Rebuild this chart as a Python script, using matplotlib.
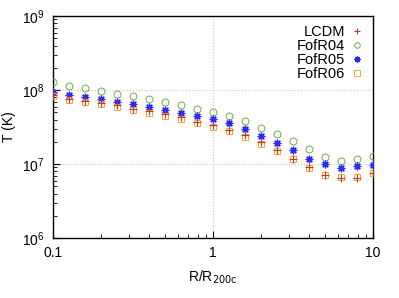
import matplotlib
matplotlib.use('Agg')
import matplotlib.pyplot as plt
from matplotlib.ticker import LogLocator, NullFormatter, FixedLocator, FixedFormatter

plt.rcParams['font.family'] = ['Liberation Sans', 'DejaVu Sans']

# radius bins (R/R200c)
r = [0.1, 0.126, 0.158, 0.2, 0.251, 0.316, 0.398, 0.501, 0.631, 0.794, 1.0,
     1.26, 1.58, 2.0, 2.51, 3.16, 3.98, 5.01, 6.31, 7.94, 10.0]

# temperature profiles (K)
t_lcdm = [8.55e7, 7.64e7, 7.18e7, 6.67e7, 6.21e7, 5.60e7, 5.15e7, 4.74e7, 4.28e7, 3.73e7, 3.33e7,
          2.91e7, 2.44e7, 1.98e7, 1.55e7, 1.18e7, 9.0e6, 7.03e6, 6.47e6, 6.47e6, 7.64e6]
t_r04 = [1.27e8, 1.15e8, 1.06e8, 9.8e7, 8.9e7, 8.2e7, 7.5e7, 6.8e7, 6.2e7, 5.6e7, 5.0e7,
         4.4e7, 3.8e7, 3.1e7, 2.55e7, 2.07e7, 1.6e7, 1.26e7, 1.11e7, 1.17e7, 1.27e7]
t_r05 = [9.4e7, 8.55e7, 7.96e7, 7.48e7, 6.96e7, 6.4e7, 5.89e7, 5.42e7, 4.94e7, 4.46e7, 4.02e7,
         3.55e7, 2.97e7, 2.39e7, 1.92e7, 1.53e7, 1.19e7, 1.01e7, 8.9e6, 9.4e6, 9.7e6]
t_r06 = [8.21e7, 7.24e7, 6.88e7, 6.40e7, 5.96e7, 5.42e7, 4.94e7, 4.50e7, 4.10e7, 3.62e7, 3.20e7,
         2.79e7, 2.34e7, 1.88e7, 1.51e7, 1.17e7, 8.9e6, 7.1e6, 6.67e6, 6.74e6, 7.55e6]

fig = plt.figure(figsize=(3.99, 2.98), dpi=100)
ax = fig.add_axes([0.133, 0.201, 0.802, 0.745])

ax.plot(r, t_lcdm, linestyle='none', marker='+', markersize=5.5, markeredgewidth=0.8,
        color='#c8352a', label='LCDM', zorder=4)
ax.plot(r, t_r04, linestyle='none', marker='o', markersize=5, markeredgewidth=0.7,
        markerfacecolor='none', color='#6aaa4a', label='FofR04', zorder=3)
ax.plot(r, t_r05, linestyle='none', marker=(8, 2, 0), markersize=5.5, markeredgewidth=0.9,
        color='#2a2aff', label='FofR05', zorder=3)
ax.plot(r, t_r06, linestyle='none', marker='s', markersize=5, markeredgewidth=0.7,
        markerfacecolor='none', color='#f3a532', label='FofR06', zorder=3)

ax.set_xscale('log')
ax.set_yscale('log')
ax.set_xlim(0.1, 10)
ax.set_ylim(1e6, 1e9)

ax.xaxis.set_major_locator(FixedLocator([0.1, 1, 10]))
ax.xaxis.set_major_formatter(FixedFormatter(['0.1', '1', '10']))
ax.xaxis.set_minor_locator(LogLocator(base=10, subs=range(2, 10)))
ax.xaxis.set_minor_formatter(NullFormatter())
ax.yaxis.set_major_locator(LogLocator(base=10, numticks=10))
ax.yaxis.set_minor_locator(LogLocator(base=10, subs=range(2, 10), numticks=10))
ax.yaxis.set_minor_formatter(NullFormatter())

ax.tick_params(which='major', direction='in', length=5, width=0.8, labelsize=10, pad=6)
ax.tick_params(which='minor', direction='in', length=3, width=0.6)
ax.grid(True, which='major', color='#c8c8c8', linestyle=':', linewidth=0.8)
for s in ax.spines.values():
    s.set_linewidth(1.0)

ax.set_xlabel('R/R$_{\\mathrm{200c}}$', fontsize=10, labelpad=6)
ax.set_ylabel('T (K)', fontsize=10)
ax.yaxis.set_label_coords(-0.115, 0.5)

ax.legend(loc='upper right', frameon=False, markerfirst=False, fontsize=10.5,
          handletextpad=0.3, labelspacing=0.0, borderaxespad=0.2, handlelength=1.0,
          markerscale=0.8)

fig.savefig('out.png', dpi=100)
